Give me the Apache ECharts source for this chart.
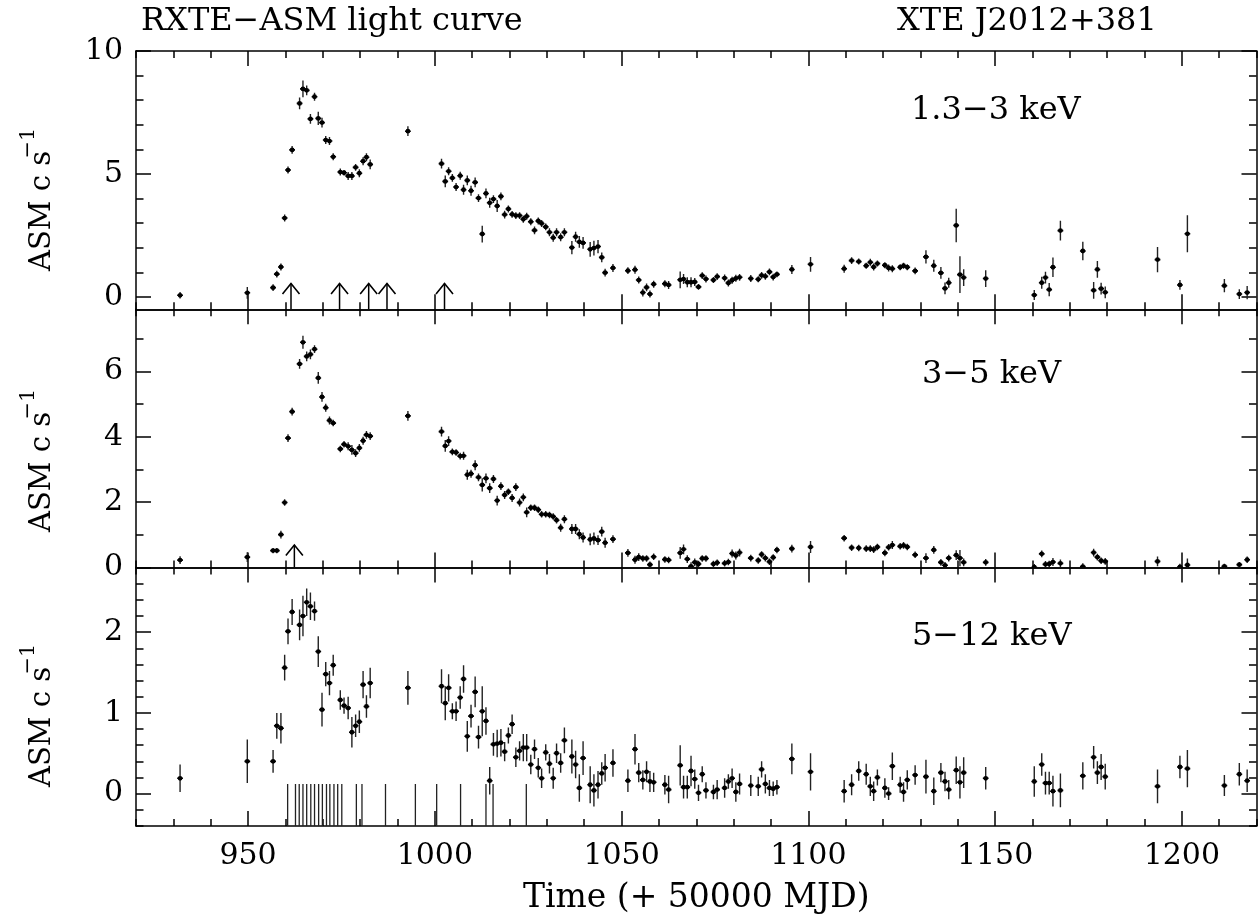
<!DOCTYPE html>
<html><head><meta charset="utf-8">
<script src="https://cdn.jsdelivr.net/npm/echarts@6/dist/echarts.min.js"></script>
<style>html,body{margin:0;padding:0;background:#fff}#c{width:1258px;height:916px}</style>
</head><body><div id="c"></div>
<script>
// ---- data (time in MJD - 50000) ----
const days = [
 931.8, 949.8, 956.7, 957.7, 958.8, 959.8, 960.7, 961.8, 963.8, 964.7,
 965.7, 966.7, 967.8, 968.8, 969.8, 970.8, 971.8, 972.8, 974.7, 975.7,
 976.8, 977.8, 978.8, 979.8, 980.8, 981.7, 982.7, 992.8, 1001.8, 1002.8,
 1003.7, 1004.7, 1005.7, 1006.8, 1007.7, 1008.7, 1009.7, 1010.8, 1011.7, 1012.7,
 1013.7, 1014.7, 1015.7, 1016.7, 1017.7, 1018.7, 1019.7, 1020.7, 1021.7, 1022.7,
 1023.7, 1024.6, 1025.7, 1026.7, 1027.7, 1028.6, 1029.7, 1030.7, 1031.7, 1032.6,
 1033.7, 1034.7, 1036.7, 1037.7, 1038.7, 1039.7, 1041.6, 1042.6, 1043.7, 1044.7,
 1045.6, 1047.7, 1051.7, 1053.6, 1054.6, 1055.7, 1056.7, 1057.6, 1058.6, 1061.6,
 1062.6, 1065.7, 1066.6, 1067.6, 1068.6, 1069.6, 1070.6, 1071.6, 1072.6, 1074.6,
 1075.6, 1077.6, 1078.6, 1079.6, 1080.6, 1081.6, 1084.6, 1086.6, 1087.5, 1088.5,
 1089.6, 1090.6, 1091.6, 1095.6, 1100.6, 1109.6, 1111.6, 1113.5, 1115.5, 1116.6,
 1117.5, 1118.5, 1120.5, 1121.5, 1122.5, 1124.6, 1125.5, 1126.5, 1128.6, 1131.5,
 1133.6, 1135.5, 1136.6, 1137.6, 1139.6, 1140.6, 1141.6, 1147.5, 1160.5, 1162.5,
 1163.5, 1164.5, 1165.5, 1167.5, 1173.5, 1176.4, 1177.4, 1178.4, 1179.5, 1193.5,
 1199.5, 1201.5, 1211.4, 1215.4, 1217.5
];
const rate13 = [
 0.07, 0.17, 0.38, 0.93, 1.22, 3.21, 5.16, 5.98, 7.87, 8.46,
 8.40, 7.24, 8.14, 7.26, 7.09, 6.38, 6.34, 5.70, 5.08, 5.05,
 4.92, 4.92, 5.27, 5.03, 5.52, 5.68, 5.39, 6.74, 5.42, 4.70,
 5.11, 4.84, 4.47, 4.93, 4.36, 4.74, 4.32, 4.66, 4.02, 2.56,
 4.21, 3.83, 3.98, 3.70, 4.09, 3.35, 3.58, 3.36, 3.31, 3.31,
 3.16, 3.28, 3.06, 2.71, 3.09, 2.99, 2.85, 2.63, 2.41, 2.63,
 2.43, 2.63, 2.01, 2.45, 2.24, 2.20, 1.94, 1.99, 2.05, 1.61,
 0.99, 1.18, 1.07, 1.11, 0.69, 0.18, 0.39, 0.12, 0.52, 0.54,
 0.49, 0.70, 0.73, 0.60, 0.60, 0.61, 0.41, 0.87, 0.73, 0.69,
 0.83, 0.77, 0.57, 0.68, 0.76, 0.80, 0.75, 0.72, 0.88, 0.84,
 1.02, 0.81, 0.92, 1.12, 1.33, 1.15, 1.48, 1.44, 1.27, 1.41,
 1.22, 1.36, 1.29, 1.18, 1.15, 1.21, 1.27, 1.21, 1.06, 1.63,
 1.27, 0.98, 0.35, 0.58, 2.91, 0.91, 0.79, 0.75, 0.08, 0.58,
 0.79, 0.30, 1.21, 2.70, 1.87, 0.27, 1.12, 0.34, 0.19, 1.52,
 0.49, 2.57, 0.46, 0.12, 0.18
];
const err13 = [
 0.13, 0.24, 0.14, 0.14, 0.14, 0.14, 0.14, 0.16, 0.24, 0.34,
 0.20, 0.20, 0.16, 0.27, 0.20, 0.16, 0.16, 0.14, 0.14, 0.11,
 0.16, 0.16, 0.14, 0.16, 0.16, 0.16, 0.20, 0.20, 0.20, 0.24,
 0.16, 0.16, 0.16, 0.16, 0.20, 0.20, 0.20, 0.20, 0.16, 0.34,
 0.20, 0.20, 0.16, 0.24, 0.16, 0.16, 0.14, 0.14, 0.14, 0.14,
 0.14, 0.14, 0.14, 0.16, 0.14, 0.14, 0.14, 0.16, 0.16, 0.16,
 0.16, 0.16, 0.27, 0.20, 0.24, 0.24, 0.30, 0.30, 0.27, 0.20,
 0.16, 0.16, 0.14, 0.16, 0.14, 0.16, 0.16, 0.14, 0.14, 0.14,
 0.16, 0.34, 0.20, 0.20, 0.20, 0.16, 0.12, 0.14, 0.14, 0.12,
 0.14, 0.14, 0.14, 0.14, 0.14, 0.14, 0.14, 0.12, 0.14, 0.14,
 0.14, 0.14, 0.12, 0.18, 0.30, 0.16, 0.14, 0.12, 0.12, 0.14,
 0.14, 0.12, 0.12, 0.14, 0.14, 0.12, 0.12, 0.12, 0.14, 0.27,
 0.24, 0.24, 0.24, 0.20, 0.68, 0.75, 0.34, 0.34, 0.20, 0.24,
 0.24, 0.27, 0.40, 0.40, 0.38, 0.34, 0.34, 0.24, 0.24, 0.51,
 0.20, 0.75, 0.27, 0.20, 0.27
];
const rate35 = [
 0.23, 0.32, 0.52, 0.52, 1.01, 1.99, 3.96, 4.77, 6.23, 6.89,
 6.46, 6.52, 6.68, 5.80, 5.22, 4.89, 4.50, 4.42, 3.63, 3.77,
 3.71, 3.60, 3.50, 3.66, 3.88, 4.06, 4.02, 4.64, 4.16, 3.72,
 3.87, 3.54, 3.52, 3.41, 3.42, 2.84, 2.87, 3.13, 2.76, 2.53,
 2.73, 2.43, 2.71, 2.05, 2.49, 2.22, 2.32, 2.13, 2.46, 1.99,
 2.15, 1.69, 1.83, 1.83, 1.77, 1.63, 1.63, 1.61, 1.56, 1.45,
 1.22, 1.48, 1.18, 1.18, 1.02, 0.92, 0.86, 0.89, 0.84, 1.10,
 0.76, 0.87, 0.45, 0.24, 0.32, 0.28, 0.28, 0.09, 0.33, 0.25,
 0.23, 0.45, 0.56, 0.26, 0.04, 0.16, 0.11, 0.28, 0.28, 0.11,
 0.15, 0.13, 0.17, 0.43, 0.37, 0.46, 0.29, 0.22, 0.40, 0.29,
 0.18, 0.31, 0.54, 0.58, 0.63, 0.90, 0.61, 0.60, 0.58, 0.58,
 0.55, 0.63, 0.45, 0.62, 0.69, 0.65, 0.68, 0.63, 0.39, 0.29,
 0.54, 0.16, 0.07, 0.29, 0.38, 0.29, 0.16, 0.16, 0.01, 0.42,
 0.10, 0.11, 0.17, 0.13, 0.03, 0.46, 0.32, 0.21, 0.19, 0.19,
 0.02, 0.08, 0.04, 0.09, 0.24
];
const err35 = [
 0.12, 0.15, 0.08, 0.08, 0.12, 0.10, 0.12, 0.12, 0.15, 0.20,
 0.15, 0.15, 0.12, 0.18, 0.15, 0.12, 0.12, 0.10, 0.10, 0.10,
 0.12, 0.15, 0.12, 0.12, 0.12, 0.12, 0.12, 0.15, 0.15, 0.18,
 0.15, 0.10, 0.10, 0.10, 0.12, 0.15, 0.12, 0.15, 0.12, 0.20,
 0.15, 0.15, 0.12, 0.15, 0.12, 0.12, 0.10, 0.12, 0.12, 0.12,
 0.12, 0.15, 0.10, 0.10, 0.10, 0.10, 0.10, 0.10, 0.10, 0.10,
 0.12, 0.12, 0.15, 0.15, 0.15, 0.15, 0.18, 0.18, 0.15, 0.15,
 0.15, 0.12, 0.12, 0.12, 0.12, 0.10, 0.10, 0.10, 0.10, 0.10,
 0.10, 0.18, 0.15, 0.12, 0.12, 0.12, 0.10, 0.10, 0.10, 0.10,
 0.10, 0.10, 0.10, 0.12, 0.12, 0.12, 0.10, 0.10, 0.10, 0.10,
 0.10, 0.10, 0.10, 0.12, 0.18, 0.10, 0.10, 0.10, 0.10, 0.10,
 0.10, 0.10, 0.10, 0.10, 0.12, 0.10, 0.10, 0.10, 0.10, 0.15,
 0.12, 0.10, 0.10, 0.10, 0.15, 0.25, 0.12, 0.10, 0.10, 0.10,
 0.10, 0.10, 0.12, 0.12, 0.10, 0.12, 0.10, 0.10, 0.10, 0.15,
 0.10, 0.20, 0.08, 0.08, 0.10
];
const rate512 = [
 0.19, 0.40, 0.40, 0.84, 0.81, 1.56, 2.01, 2.25, 2.09, 2.20,
 2.37, 2.32, 2.26, 1.76, 1.04, 1.48, 1.37, 1.59, 1.16, 1.09,
 1.06, 0.76, 0.84, 0.89, 1.35, 1.08, 1.37, 1.31, 1.33, 1.12,
 1.31, 1.02, 1.02, 1.19, 1.42, 0.71, 0.96, 1.26, 0.70, 1.02,
 0.90, 0.16, 0.61, 0.62, 0.63, 0.52, 0.72, 0.86, 0.45, 0.53,
 0.57, 0.57, 0.36, 0.55, 0.32, 0.19, 0.51, 0.37, 0.19, 0.50,
 0.38, 0.66, 0.46, 0.36, 0.07, 0.44, 0.11, 0.04, 0.11, 0.25,
 0.32, 0.38, 0.16, 0.55, 0.26, 0.17, 0.27, 0.15, 0.14, 0.11,
 0.05, 0.35, 0.08, 0.08, 0.28, 0.18, 0.01, 0.24, 0.04, 0.02,
 0.05, 0.07, 0.15, 0.19, 0.02, 0.12, 0.10, 0.09, 0.30, 0.12,
 0.07, 0.06, 0.08, 0.43, 0.27, 0.03, 0.11, 0.28, 0.24, 0.09,
 0.03, 0.20, 0.07, 0.00, 0.34, 0.11, 0.02, 0.17, 0.23, 0.21,
 0.03, 0.26, 0.15, 0.05, 0.29, 0.14, 0.26, 0.19, 0.15, 0.36,
 0.13, 0.13, 0.03, 0.04, 0.22, 0.45, 0.26, 0.33, 0.21, 0.09,
 0.33, 0.31, 0.10, 0.24, 0.16
];
const err512 = [
 0.17, 0.27, 0.14, 0.16, 0.19, 0.16, 0.16, 0.16, 0.19, 0.25,
 0.17, 0.17, 0.12, 0.19, 0.21, 0.15, 0.15, 0.13, 0.12, 0.10,
 0.14, 0.19, 0.14, 0.14, 0.17, 0.14, 0.19, 0.21, 0.21, 0.21,
 0.17, 0.10, 0.12, 0.14, 0.17, 0.19, 0.14, 0.19, 0.14, 0.31,
 0.17, 0.17, 0.14, 0.17, 0.17, 0.12, 0.10, 0.12, 0.12, 0.12,
 0.17, 0.17, 0.12, 0.12, 0.12, 0.12, 0.10, 0.12, 0.13, 0.12,
 0.12, 0.16, 0.21, 0.17, 0.17, 0.21, 0.23, 0.20, 0.17, 0.14,
 0.17, 0.17, 0.14, 0.19, 0.12, 0.12, 0.13, 0.13, 0.12, 0.12,
 0.17, 0.25, 0.14, 0.14, 0.19, 0.12, 0.10, 0.10, 0.10, 0.09,
 0.12, 0.12, 0.09, 0.12, 0.12, 0.13, 0.13, 0.12, 0.10, 0.12,
 0.10, 0.09, 0.09, 0.19, 0.23, 0.14, 0.13, 0.12, 0.13, 0.12,
 0.12, 0.10, 0.12, 0.08, 0.17, 0.10, 0.12, 0.12, 0.12, 0.21,
 0.17, 0.12, 0.12, 0.12, 0.17, 0.20, 0.19, 0.14, 0.19, 0.14,
 0.14, 0.14, 0.19, 0.21, 0.17, 0.14, 0.14, 0.16, 0.16, 0.21,
 0.14, 0.23, 0.13, 0.14, 0.14
];
// event markers
const arrows13 = [961.5, 974.5, 982.3, 987.2, 1002.6];
const arrows35 = [962.4];
const marks512 = [960.6, 962.7, 963.7, 964.7, 965.7, 966.8, 967.8, 968.9, 969.9, 971.0,
  971.9, 973.0, 974.0, 975.1, 979.0, 980.5, 986.8, 994.8, 1000.5, 1006.9, 1013.7, 1015.6, 1024.5];

// ---- axes / ticks ----
const xMin = 920, xMax = 1220;
const xMajor = [950, 1000, 1050, 1100, 1150, 1200];
const xMinor = [920,930,940,950,960,970,980,990,1000,1010,1020,1030,1040,1050,1060,1070,1080,1090,
  1100,1110,1120,1130,1140,1150,1160,1170,1180,1190,1200,1210,1220];
const panels = [
  {label: '1.3\u22123 keV', min: -0.5, max: 10, minor: [0,1,2,3,4,5,6,7,8,9,10], major: [0,5,10]},
  {label: '3\u22125 keV', min: 0, max: 7.9, minor: [0,1,2,3,4,5,6,7], major: [0,2,4,6]},
  {label: '5\u221212 keV', min: -0.4, max: 2.8,
   minor: [-0.4,-0.2,0,0.2,0.4,0.6,0.8,1,1.2,1.4,1.6,1.8,2,2.2,2.4,2.6,2.8], major: [0,1,2]}
];
const title = 'RXTE\u2212ASM light curve';
const source = 'XTE J2012+381';
const xName = 'Time (+ 50000 MJD)';
const yName = 'ASM c s';
const ySup = '\u22121';

// ---- layout ----
const F = '"DejaVu Serif", serif';
const gridTops = [51, 309.3, 567.6];
const gridH = 258.3;
const AX = {color: '#000', width: 1.5};
const plain = v => String(v);

const grids = gridTops.map(t => ({left: 136, right: 1.5, top: t, height: gridH, containLabel: false}));
const xAxes = [], yAxes = [];
gridTops.forEach((t, g) => {
  const last = g === gridTops.length - 1;
  const bx = {gridIndex: g, type: 'value', min: xMin, max: xMax, splitLine: {show: false}, axisLabel: {show: false}};
  xAxes.push(
    Object.assign({}, bx, {position: 'bottom', axisLine: {show: true, onZero: false, lineStyle: AX},
      axisTick: {show: true, inside: true, length: 7, customValues: xMinor, lineStyle: AX}}),
    Object.assign({}, bx, {position: 'bottom', axisLine: {show: false, onZero: false},
      axisTick: {show: true, inside: true, length: 15, customValues: xMajor, lineStyle: AX},
      axisLabel: last ? {show: true, customValues: xMajor, formatter: plain, margin: 15, fontSize: 30, fontFamily: F, color: '#000'} : {show: false},
      name: last ? xName : '', nameLocation: 'middle', nameGap: 56,
      nameTextStyle: {fontSize: 33, fontFamily: F, color: '#000'}}),
    Object.assign({}, bx, {position: 'top', axisLine: {show: true, onZero: false, lineStyle: AX},
      axisTick: {show: true, inside: true, length: 7, customValues: xMinor, lineStyle: AX}}),
    Object.assign({}, bx, {position: 'top', axisLine: {show: false, onZero: false},
      axisTick: {show: true, inside: true, length: 15, customValues: xMajor, lineStyle: AX}})
  );
  const p = panels[g];
  const by = {gridIndex: g, type: 'value', min: p.min, max: p.max, splitLine: {show: false}, axisLabel: {show: false}};
  yAxes.push(
    Object.assign({}, by, {position: 'left', axisLine: {show: true, onZero: false, lineStyle: AX},
      axisTick: {show: true, inside: true, length: 7.5, customValues: p.minor, lineStyle: AX}}),
    Object.assign({}, by, {position: 'left', axisLine: {show: false, onZero: false},
      axisTick: {show: true, inside: true, length: 15, customValues: p.major, lineStyle: AX},
      axisLabel: {show: true, customValues: p.major, formatter: plain, margin: 13, fontSize: 30, fontFamily: F, color: '#000'}}),
    Object.assign({}, by, {position: 'right', axisLine: {show: true, onZero: false, lineStyle: AX},
      axisTick: {show: true, inside: true, length: 7.5, customValues: p.minor, lineStyle: AX}}),
    Object.assign({}, by, {position: 'right', axisLine: {show: false, onZero: false},
      axisTick: {show: true, inside: true, length: 15, customValues: p.major, lineStyle: AX}})
  );
});

function errRender(params, api) {
  const t = api.value(0), v = api.value(1), e = api.value(2);
  const p = api.coord([t, v]);
  const hi = api.coord([t, v + e]);
  const lo = api.coord([t, v - e]);
  const l = api.coord([t - 0.5, v]);
  const r = api.coord([t + 0.5, v]);
  return {type: 'group', children: [
    {type: 'line', shape: {x1: p[0], y1: hi[1], x2: p[0], y2: lo[1]}, style: {stroke: '#222', lineWidth: 1.4}},
    {type: 'line', shape: {x1: l[0] - 1, y1: p[1], x2: r[0] + 1, y2: p[1]}, style: {stroke: '#000', lineWidth: 1.6}},
    {type: 'circle', shape: {cx: p[0], cy: p[1], r: 2.4}, style: {fill: '#000'}}
  ]};
}
function arrowRender(tip) {
  return function (params, api) {
    const t = api.value(0);
    const b = api.coord([t, api.value(1)]);
    const a = api.coord([t, tip]);
    return {type: 'group', children: [
      {type: 'line', shape: {x1: a[0], y1: b[1], x2: a[0], y2: a[1]}, style: {stroke: '#000', lineWidth: 1.5}},
      {type: 'polyline', shape: {points: [[a[0] - 8.5, a[1] + 10.5], [a[0], a[1]], [a[0] + 8.5, a[1] + 10.5]]},
        style: {stroke: '#000', lineWidth: 1.6, fill: null}}
    ]};
  };
}
function markRender(params, api) {
  const t = api.value(0);
  const b = api.coord([t, api.value(1)]);
  const a = api.coord([t, 0.12]);
  return {type: 'line', shape: {x1: b[0], y1: b[1], x2: a[0], y2: a[1]}, style: {stroke: '#222', lineWidth: 1.3}};
}

const rates = [rate13, rate35, rate512];
const errs = [err13, err35, err512];
const series = [];
rates.forEach((rate, g) => {
  series.push({type: 'custom', xAxisIndex: g * 4, yAxisIndex: g * 4, clip: true,
    renderItem: errRender, data: days.map((t, i) => [t, rate[i], errs[g][i]])});
});
series.push({type: 'custom', xAxisIndex: 0, yAxisIndex: 0, clip: true, renderItem: arrowRender(0.55),
  data: arrows13.map(t => [t, panels[0].min])});
series.push({type: 'custom', xAxisIndex: 4, yAxisIndex: 4, clip: true, renderItem: arrowRender(0.69),
  data: arrows35.map(t => [t, panels[1].min])});
series.push({type: 'custom', xAxisIndex: 8, yAxisIndex: 8, clip: true, renderItem: markRender,
  data: marks512.map(t => [t, panels[2].min])});

const txt = (x, y, text, size, extra) => Object.assign({type: 'text', x: x, y: y,
  style: Object.assign({text: text, fontSize: size, fontFamily: F, fill: '#000', verticalAlign: 'middle'}, extra || {})});
const labelPos = [[911, 111], [922, 375], [912, 637]];
const yNameC = [211, 472, 727];
const graphics = [
  txt(141, 22, title, 32),
  txt(897, 22, source, 32),
];
panels.forEach((p, g) => {
  graphics.push(txt(labelPos[g][0], labelPos[g][1], p.label, 32));
  graphics.push(Object.assign(txt(42, yNameC[g], yName, 29, {align: 'center'}), {rotation: Math.PI / 2}));
  graphics.push(Object.assign(txt(29, yNameC[g] - 68, ySup, 21, {align: 'center'}), {rotation: Math.PI / 2}));
});

const chart = echarts.init(document.getElementById('c'), null, {renderer: 'canvas'});
chart.setOption({
  animation: false,
  backgroundColor: '#fff',
  grid: grids,
  xAxis: xAxes,
  yAxis: yAxes,
  series: series,
  graphic: graphics
});
</script>
</body></html>
